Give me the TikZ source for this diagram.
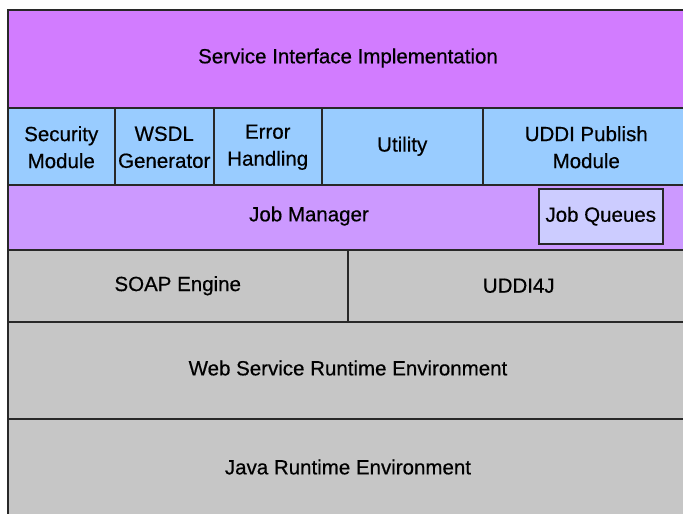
\documentclass[tikz,border=0pt]{standalone}
\usepackage{fontspec}
\setmainfont{Liberation Sans}
\newfontfamily\labelfont{Liberation Sans}[FakeBold=0.5]
\definecolor{svcpurple}{RGB}{210,124,255}
\definecolor{modblue}{RGB}{153,204,255}
\definecolor{jobpurple}{RGB}{204,153,255}
\definecolor{queuelilac}{RGB}{204,204,255}
\definecolor{layergray}{RGB}{198,198,198}
\definecolor{edgegray}{RGB}{40,40,40}
\tikzset{
  layer/.style={draw=edgegray, line width=1.5pt, rectangle, inner sep=0pt,
    anchor=north west, align=center,
    font=\labelfont\fontsize{20.5}{27}\selectfont},
  caption/.style={inner sep=0pt, align=center, font=\labelfont\fontsize{20.5}{27}\selectfont}
}
\begin{document}
\begin{tikzpicture}[x=1pt,y=-1pt]
\useasboundingbox (0,0) rectangle (683,514);
\clip (0,0) rectangle (683,514);
\fill[white] (0,0) rectangle (683,514);

% top layer
\node[layer, fill=svcpurple, minimum width=682pt, minimum height=98pt] (sii) at (7,9) {};
\node[caption] (siilabel) at (348,58) {Service Interface Implementation};

% module row
\node[layer, fill=modblue, minimum width=107pt, minimum height=77pt] (sec) at (7,107) {};
\node[layer, fill=modblue, minimum width=99pt, minimum height=77pt] (wsdl) at (114,107) {};
\node[layer, fill=modblue, minimum width=108pt, minimum height=77pt] (err) at (213,107) {};
\node[layer, fill=modblue, minimum width=161pt, minimum height=77pt] (util) at (321,107) {};
\node[layer, fill=modblue, minimum width=207pt, minimum height=77pt] (pub) at (482,107) {};
\node[caption] at ([yshift=-1pt]sec.center) {Security\\Module};
\node[caption] at ([yshift=-1pt]wsdl.center) {WSDL\\Generator};
\node[caption] at ([yshift=-1pt]err.center) {Error\\Handling};
\node[caption] at (util.center) {Utility};
\node[caption] at ([yshift=-1pt]pub.center) {UDDI Publish\\Module};

% job manager band with queues
\node[layer, fill=jobpurple, minimum width=682pt, minimum height=65pt] (jm) at (7,184) {};
\node[caption] (jmlabel) at (309,216) {Job Manager};
\node[layer, fill=queuelilac, minimum width=124pt, minimum height=55pt] (jq) at (538,188) {Job Queues};

% runtime layers
\node[layer, fill=layergray, minimum width=340pt, minimum height=72pt] (soap) at (7,249) {SOAP Engine};
\node[layer, fill=layergray, minimum width=342pt, minimum height=72pt] (uddi) at (347,249) {UDDI4J};
\node[layer, fill=layergray, minimum width=682pt, minimum height=97pt] (wsre) at (7,321) {};
\node[caption] at (348,368) {Web Service Runtime Environment};
\node[layer, fill=layergray, minimum width=682pt, minimum height=100pt] (jre) at (7,418) {};
\node[caption] at (348,467) {Java Runtime Environment};
\end{tikzpicture}
\end{document}
